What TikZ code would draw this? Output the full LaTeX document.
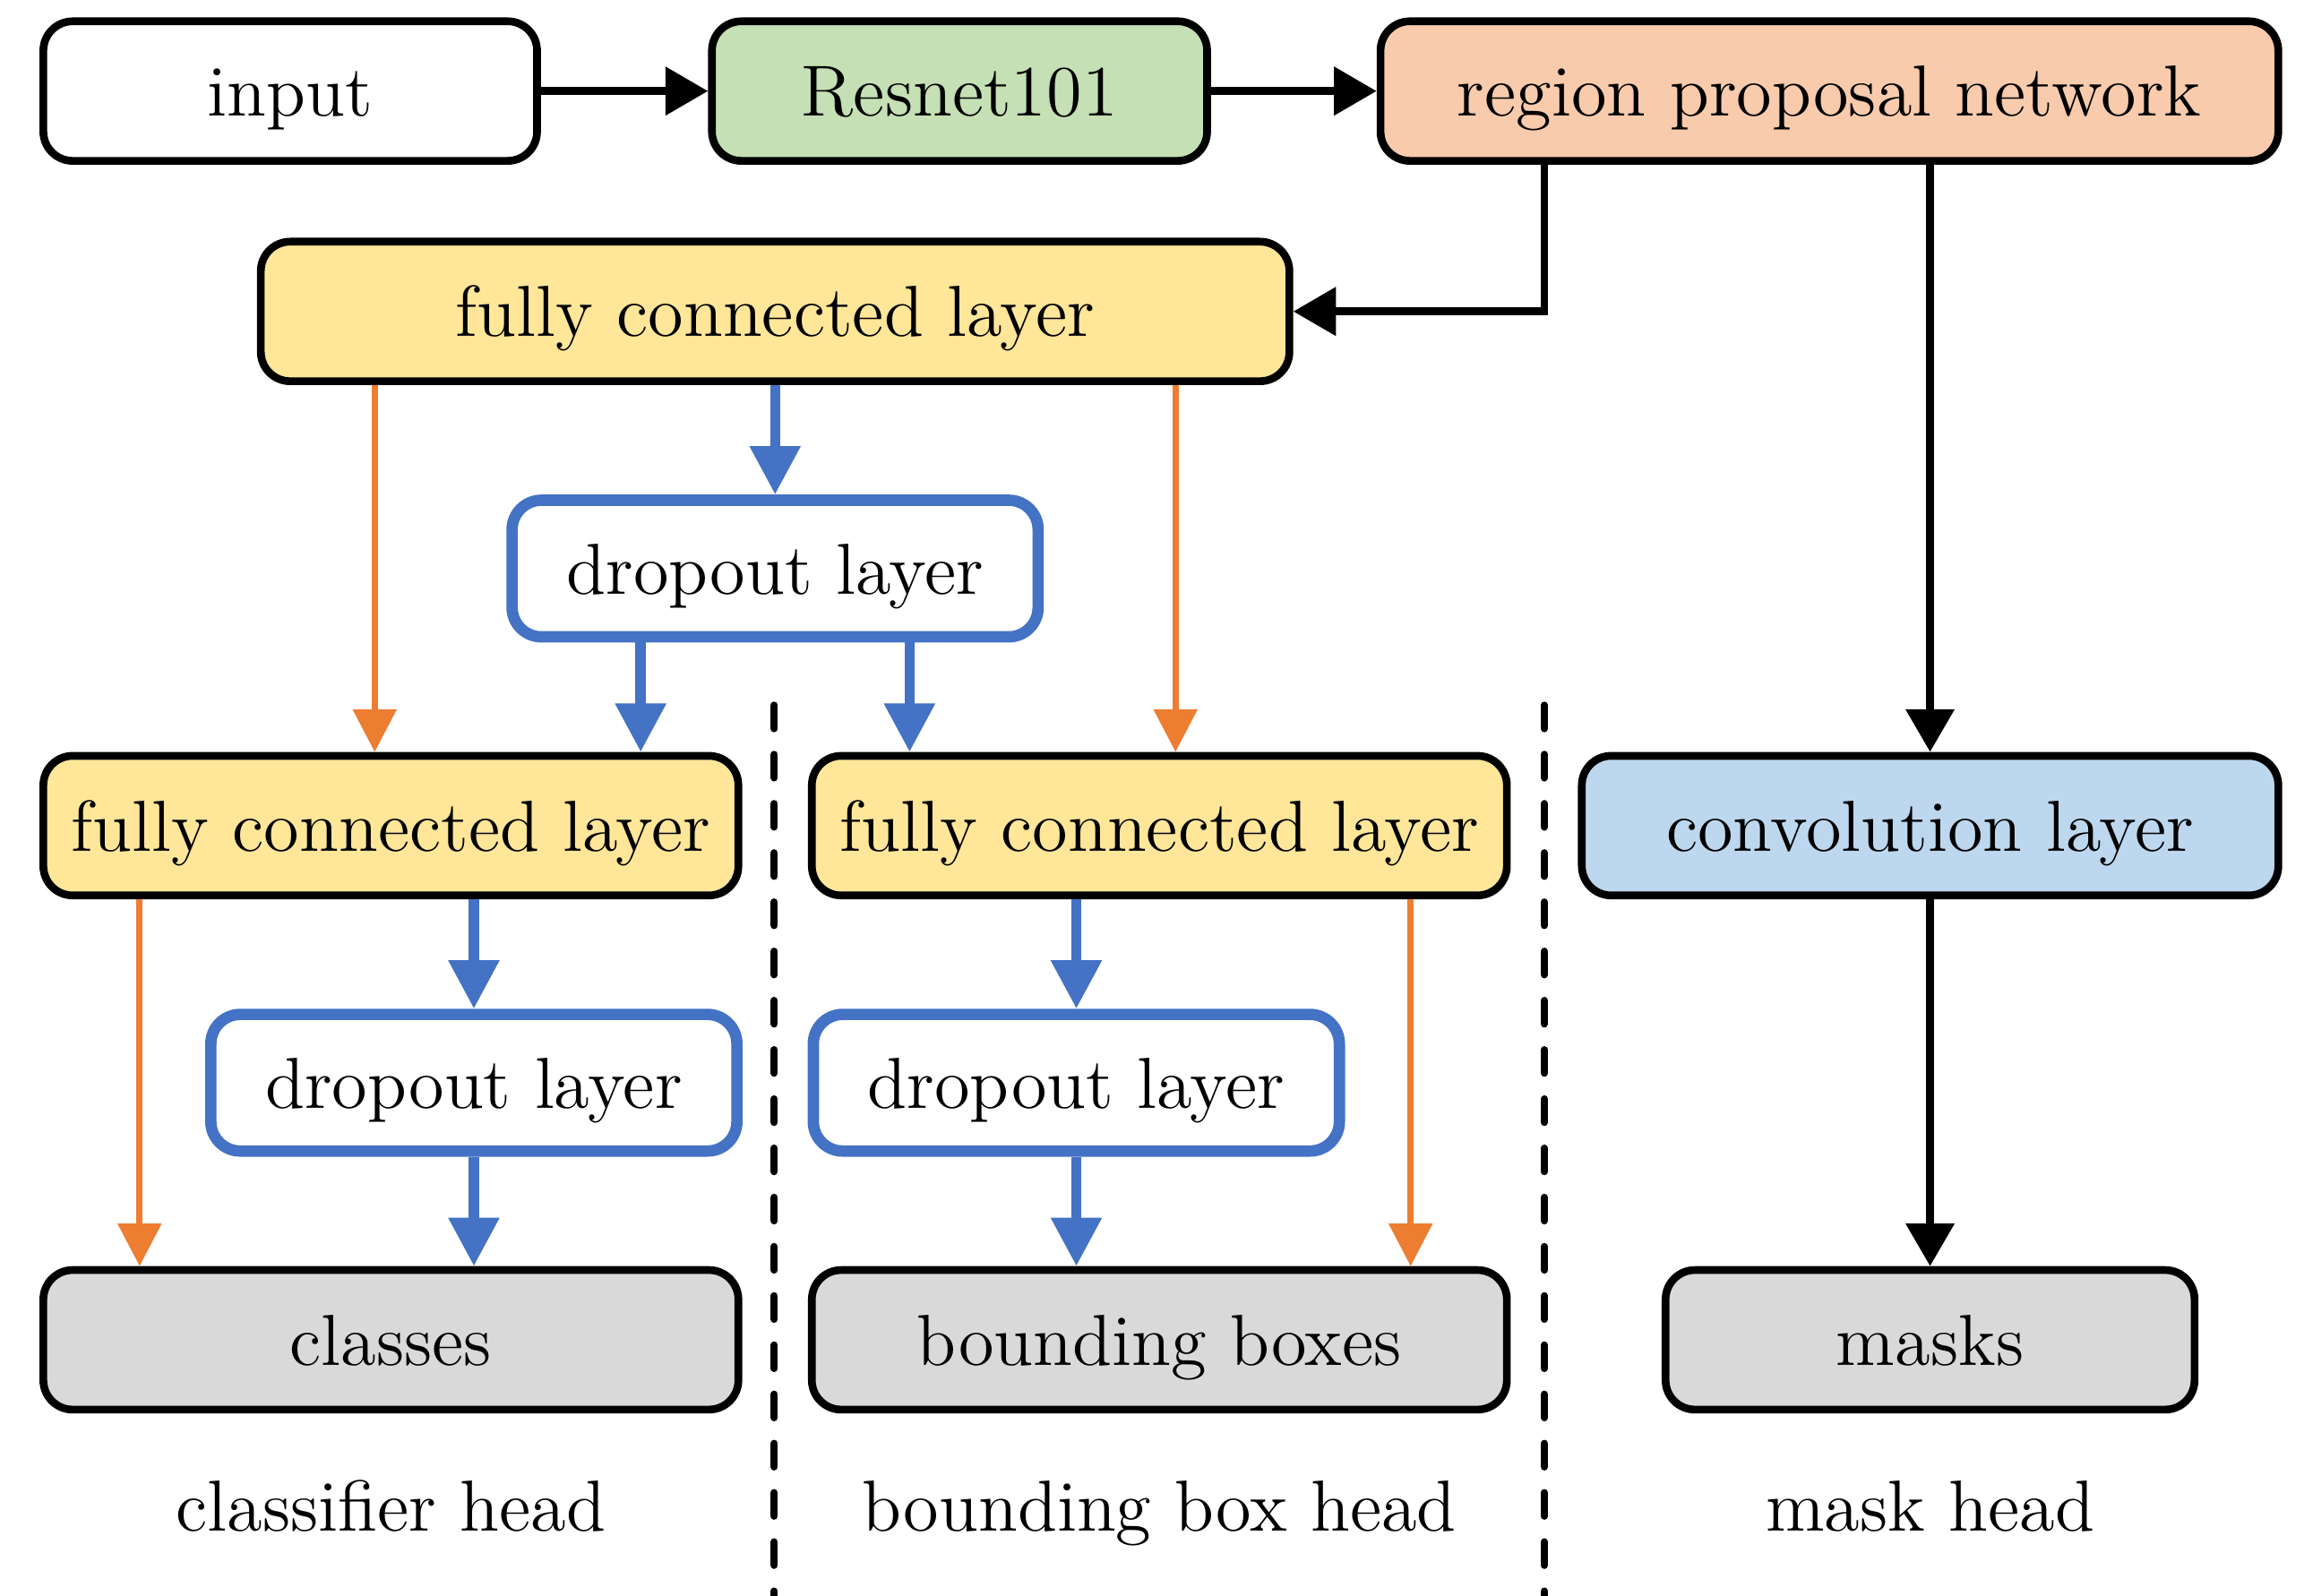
\documentclass[tikz,border=0pt]{standalone}
\usetikzlibrary{arrows.meta}
\usepackage{xcolor}
\definecolor{boxgreen}{HTML}{C5E0B4}
\definecolor{boxpeach}{HTML}{F8CBAD}
\definecolor{boxyellow}{HTML}{FFE699}
\definecolor{boxblue}{HTML}{BDD7EE}
\definecolor{boxgrey}{HTML}{D9D9D9}
\definecolor{lineblue}{HTML}{4472C4}
\definecolor{lineorange}{HTML}{ED7D31}
\tikzset{
	layer/.style={draw, rounded corners=0.2cm, line width=1.5pt, minimum height=0.95cm, inner sep=0pt, text height=9.8pt, text depth=0pt, font=\fontsize{14}{16}\selectfont},
	droplayer/.style={layer, draw=lineblue, line width=2.2pt, fill=white, minimum width=3.58cm, minimum height=0.93cm},
	karrow/.style={line width=1.5pt, -{Triangle[length=0.29cm,width=0.32cm]}},
	barrow/.style={lineblue, line width=2pt, -{Triangle[length=0.33cm,width=0.33cm]}},
	oarrow/.style={lineorange, line width=1.2pt, -{Triangle[length=0.29cm,width=0.29cm]}},
	headlabel/.style={inner sep=0pt, text height=9.8pt, text depth=0pt, font=\fontsize{14}{16}\selectfont},
	separator/.style={line width=1.4pt, line cap=round, dash pattern=on 0.16cm off 0.175cm}
}

\begin{document}
\begin{tikzpicture}
	\useasboundingbox (0,0) rectangle (15.68,-10.86);
	\node	(input) at (1.975,-0.62) [layer, fill=white, minimum width=3.36cm] {input};
	\node	(resnet) at (6.53,-0.62) [layer, fill=boxgreen, minimum width=3.37cm] {Resnet101};
	\node	(rpn) at (12.45,-0.62) [layer, fill=boxpeach, minimum width=6.11cm] {region proposal network};
	\node	(fctop) at (5.275,-2.12) [layer, fill=boxyellow, minimum width=7.0cm] {fully connected layer};
	\node	(droptop) at (5.275,-3.87) [droplayer] {dropout layer};
	\node	(fcl) at (2.66,-5.62) [layer, fill=boxyellow, minimum width=4.73cm] {fully connected layer};
	\node	(fcm) at (7.89,-5.62) [layer, fill=boxyellow, minimum width=4.73cm] {fully connected layer};
	\node	(conv) at (13.135,-5.62) [layer, fill=boxblue, minimum width=4.74cm] {convolution layer};
	\node	(dropl) at (3.225,-7.37) [droplayer] {dropout layer};
	\node	(dropm) at (7.325,-7.37) [droplayer] {dropout layer};
	\node	(classes) at (2.66,-9.12) [layer, fill=boxgrey, minimum width=4.73cm] {classes};
	\node	(bbox) at (7.89,-9.12) [layer, fill=boxgrey, minimum width=4.73cm] {bounding boxes};
	\node	(masks) at (13.135,-9.12) [layer, fill=boxgrey, minimum width=3.6cm] {masks};
	\node	(clshead) at (2.66,-10.25) [headlabel] {classifier head};
	\node	(bboxhead) at (7.89,-10.25) [headlabel] {bounding box head};
	\node	(maskhead) at (13.135,-10.25) [headlabel] {mask head};
	% separators between the heads
	\draw[separator] (5.27,-4.8) -- (5.27,-10.9);
	\draw[separator] (10.51,-4.8) -- (10.51,-10.9);
	\draw 
	(input) edge[karrow] (resnet)
	(resnet) edge[karrow] (rpn)
	(conv.north |- rpn.south) edge[karrow] (conv.north)
	(conv) edge[karrow] (masks)
	;
	\draw[karrow] ([xshift=-1.94cm]rpn.south) |- (fctop.east);
	\draw 
	(fctop) edge[barrow] (droptop)
	([xshift=1.7cm]fcl.north |- droptop.south) edge[barrow] ([xshift=1.7cm]fcl.north)
	([xshift=-1.7cm]fcm.north |- droptop.south) edge[barrow] ([xshift=-1.7cm]fcm.north)
	(dropl.north |- fcl.south) edge[barrow] (dropl.north)
	(dropl.south) edge[barrow] (dropl.south |- classes.north)
	(dropm.north |- fcm.south) edge[barrow] (dropm.north)
	(dropm.south) edge[barrow] (dropm.south |- bbox.north)
	;
	\draw 
	([xshift=-0.11cm]fcl.north |- fctop.south) edge[oarrow] ([xshift=-0.11cm]fcl.north)
	([xshift=0.11cm]fcm.north |- fctop.south) edge[oarrow] ([xshift=0.11cm]fcm.north)
	([xshift=-1.71cm]classes.north |- fcl.south) edge[oarrow] ([xshift=-1.71cm]classes.north)
	([xshift=1.71cm]bbox.north |- fcm.south) edge[oarrow] ([xshift=1.71cm]bbox.north)
	;
\end{tikzpicture}
\end{document}
